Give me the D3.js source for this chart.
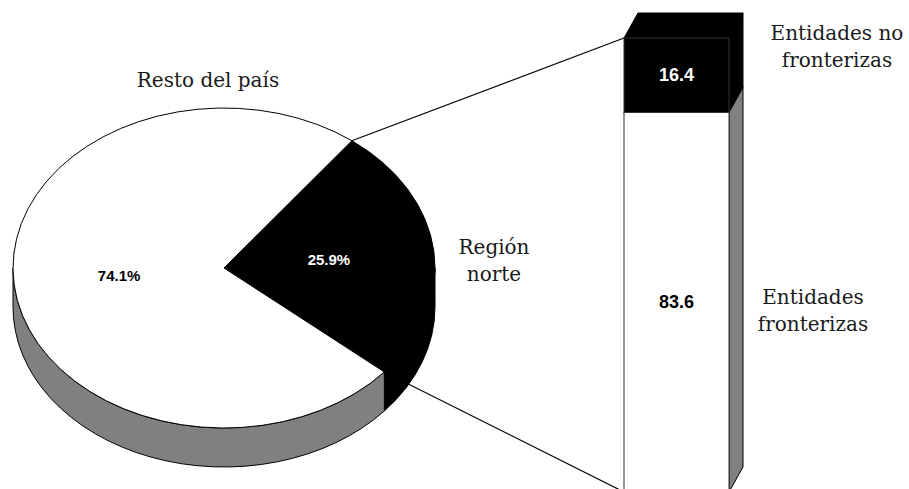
<!DOCTYPE html>
<html>
<head>
<meta charset="utf-8">
<script src="https://cdn.jsdelivr.net/npm/d3@7"></script>
<style>
  body { margin: 0; background: #fff; }
  .cat { font-family: "DejaVu Serif", serif; font-size: 20px; fill: #1a1a1a; }
  .pct { font-family: "Liberation Sans", Arial, sans-serif; font-size: 15px; font-weight: bold; }
  .pct.big { font-size: 18px; }
</style>
</head>
<body>
<div id="chart"></div>
<script>
// Pie values (percent of the country) and the split of the northern region
var pieCategories = ["Región norte", "Resto del país"];
var pieValues = [25.9, 74.1];
var pieLabels = ["25.9%", "74.1%"];
var pieTitleLines = [["Región", "norte"], ["Resto del país"]];

var barCategories = ["Entidades no fronterizas", "Entidades fronterizas"];
var barValues = [16.4, 83.6];
var barLabels = ["16.4", "83.6"];
var barTitleLines = [["Entidades no", "fronterizas"], ["Entidades", "fronterizas"]];

var pieColors = ["#000000", "#ffffff"];
var sideColors = ["#000000", "#808080"];
var textColors = ["#ffffff", "#000000"];

var W = 909, H = 489;
var svg = d3.select("#chart").append("svg")
    .attr("width", W).attr("height", H);

// pie geometry (tilted ellipse)
var cx = 224, cy = 268, rx = 211, ry = 160, depth = 39;
var deg = Math.PI / 180;
var start = 37.3 * deg;

var pie = d3.pie().sort(null)
    .startAngle(start).endAngle(start + 2 * Math.PI);
var arcs = pie(pieValues);
var arc = d3.arc().innerRadius(0).outerRadius(rx);

function pt(a, dz) {
  return [cx + rx * Math.sin(a), cy - ry * Math.cos(a) + (dz || 0)];
}

// bar geometry
var bx0 = 624, bx1 = 729, bdx = 14;
var yFront = d3.scaleLinear().domain([0, 100]).range([38, 492]);
var yBack = d3.scaleLinear().domain([0, 100]).range([13, 467]);
var stack = [];
var acc = 0;
barValues.forEach(function(v) { stack.push([acc, acc + v]); acc += v; });

// connector lines (behind everything)
var pTop = pt(arcs[0].startAngle), pBot = pt(arcs[0].endAngle);
svg.append("line")
    .attr("x1", pTop[0]).attr("y1", pTop[1])
    .attr("x2", bx0).attr("y2", yFront(0))
    .attr("stroke", "#000").attr("stroke-width", 1.2);
svg.append("line")
    .attr("x1", pBot[0]).attr("y1", pBot[1])
    .attr("x2", bx0).attr("y2", yFront(100))
    .attr("stroke", "#000").attr("stroke-width", 1.2);

// pie side walls, only the front half (angles 90..270 deg) can be seen
var sides = svg.append("g");
arcs.forEach(function(d, i) {
  [[0.5 * Math.PI, 1.5 * Math.PI], [2.5 * Math.PI, 3.5 * Math.PI]].forEach(function(win) {
    var lo = Math.max(d.startAngle, win[0]), hi = Math.min(d.endAngle, win[1]);
    if (hi <= lo) return;
    var a = pt(lo), b = pt(hi), c = pt(hi, depth), e = pt(lo, depth);
    var p = "M" + a + "A" + rx + "," + ry + " 0 0 1 " + b +
            "L" + c + "A" + rx + "," + ry + " 0 0 0 " + e + "Z";
    sides.append("path").attr("d", p)
        .attr("fill", sideColors[i])
        .attr("stroke", "#000").attr("stroke-width", 1);
  });
});

// pie top faces
var topFace = svg.append("g")
    .attr("transform", "translate(" + cx + "," + cy + ") scale(1," + (ry / rx) + ")");
topFace.selectAll("path").data(arcs).enter().append("path")
    .attr("d", arc)
    .attr("fill", function(d, i) { return pieColors[i]; })
    .attr("stroke", "#000").attr("stroke-width", 1)
    .attr("vector-effect", "non-scaling-stroke");

svg.selectAll(".pct.pie").data(arcs).enter().append("text")
    .attr("class", "pct pie")
    .attr("x", function(d) { return cx + arc.centroid(d)[0]; })
    .attr("y", function(d) { return cy + arc.centroid(d)[1] * ry / rx + 5; })
    .attr("text-anchor", "middle")
    .attr("fill", function(d, i) { return textColors[i]; })
    .text(function(d, i) { return pieLabels[i]; });

// bar: side faces, top face, front faces
var bar = svg.append("g");
stack.forEach(function(s, i) {
  bar.append("path")
      .attr("d", d3.line()([[bx1, yFront(s[0])], [bx1 + bdx, yBack(s[0])],
                            [bx1 + bdx, yBack(s[1])], [bx1, yFront(s[1])]]) + "Z")
      .attr("fill", sideColors[i]).attr("stroke", "#000").attr("stroke-width", 1);
});
bar.append("path")
    .attr("d", d3.line()([[bx0, yFront(0)], [bx1, yFront(0)],
                          [bx1 + bdx, yBack(0)], [bx0 + bdx, yBack(0)]]) + "Z")
    .attr("fill", pieColors[0]).attr("stroke", "#000").attr("stroke-width", 1);
bar.selectAll("rect").data(stack).enter().append("rect")
    .attr("x", bx0).attr("width", bx1 - bx0)
    .attr("y", function(s) { return yFront(s[0]); })
    .attr("height", function(s) { return yFront(s[1]) - yFront(s[0]); })
    .attr("fill", function(s, i) { return pieColors[i]; })
    .attr("stroke", "#333").attr("stroke-width", 1);

bar.selectAll("text").data(stack).enter().append("text")
    .attr("class", "pct big")
    .attr("x", (bx0 + bx1) / 2)
    .attr("y", function(s) { return (yFront(s[0]) + yFront(s[1])) / 2 + 6; })
    .attr("text-anchor", "middle")
    .attr("fill", function(s, i) { return textColors[i]; })
    .text(function(s, i) { return barLabels[i]; });

// category labels
var titlePos = [
  { lines: pieTitleLines[0], x: 494, y: 254 },
  { lines: pieTitleLines[1], x: 208, y: 87 },
  { lines: barTitleLines[0], x: 837, y: 40 },
  { lines: barTitleLines[1], x: 813, y: 304 }
];
titlePos.forEach(function(t) {
  var txt = svg.append("text").attr("class", "cat")
      .attr("text-anchor", "middle")
      .attr("x", t.x).attr("y", t.y);
  t.lines.forEach(function(l, j) {
    txt.append("tspan").attr("x", t.x).attr("dy", j ? 27 : 0).text(l);
  });
});
</script>
</body>
</html>
